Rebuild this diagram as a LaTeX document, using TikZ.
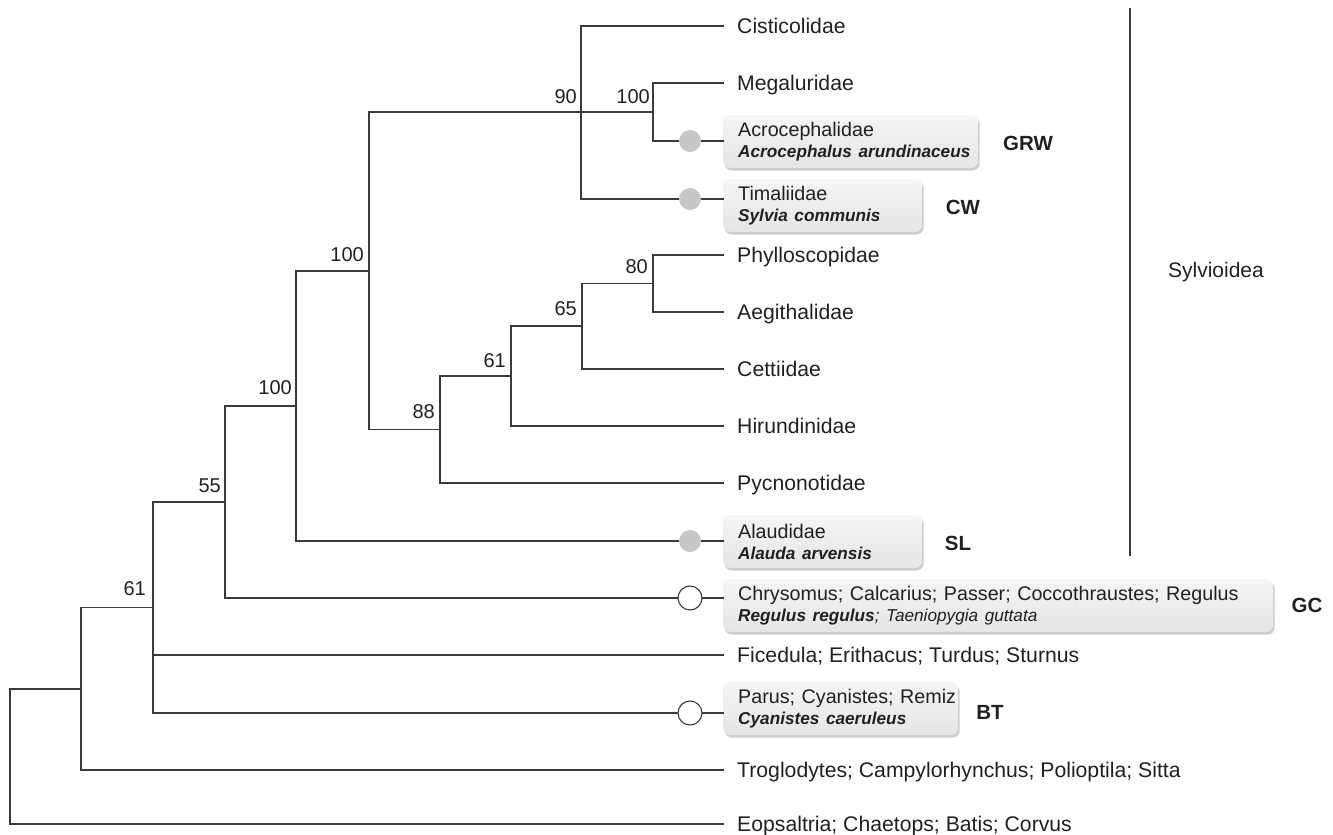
\documentclass[tikz,border=0pt]{standalone}
\usepackage{fontspec}
\setmainfont{Liberation Sans}
\usetikzlibrary{shadows}
\definecolor{ln}{HTML}{3A3A3A}
\definecolor{txt}{HTML}{231F20}
\definecolor{dotg}{HTML}{C6C7C8}
\definecolor{boxtop}{HTML}{F4F5F6}
\definecolor{boxbot}{HTML}{E4E5E6}
\newcommand\spfont{\fontsize{17.2}{21}\selectfont\bfseries\itshape}
\newcommand\itfont{\fontsize{17.2}{21}\selectfont\itshape}
\begin{document}
\begin{tikzpicture}[x=1pt,y=-1pt,
  br/.style={draw=ln, line width=1.2pt, line cap=rect},
  tip/.style={anchor=base west, inner xsep=14pt, inner ysep=0pt, text=txt, font=\fontsize{21.2}{24}\selectfont},
  bs/.style={anchor=base east, inner sep=0pt, text=txt, font=\fontsize{20}{24}\selectfont},
  tag/.style={text=txt, inner sep=0pt, font=\fontsize{20.5}{24}\selectfont\bfseries},
  gbox/.style={anchor=west, rounded corners=7pt, top color=boxtop, bottom color=boxbot, draw=none,
    drop shadow={shadow xshift=1.5pt, shadow yshift=-2.5pt, fill=black!50, opacity=0.4},
    inner xsep=15pt, inner ysep=0pt, minimum height=53pt, align=left, text=txt,
    font=\fontsize{19.7}{21}\selectfont},
  gdot/.style={circle, fill=dotg, draw=none, minimum size=22pt, inner sep=0pt},
  odot/.style={circle, fill=white, draw=ln, line width=1.1pt, minimum size=24pt, inner sep=0pt}]
\useasboundingbox (0,0) rectangle (1333,835);

% internal nodes
\coordinate (R) at (10,756.5);
\coordinate (A) at (81,689);
\coordinate (B) at (153,607.5);
\coordinate (C) at (225,502);
\coordinate (D) at (296,406);
\coordinate (E) at (369,271);
\coordinate (F) at (581,112);
\coordinate (H) at (653,112);
\coordinate (G) at (440,429.5);
\coordinate (I) at (511,376);
\coordinate (J) at (582,326);
\coordinate (K) at (653,283.5);

% tip ends
\coordinate (e1) at (723,26);
\coordinate (e2) at (723,83);
\coordinate (e3) at (723,141);
\coordinate (e4) at (723,199);
\coordinate (e5) at (723,255);
\coordinate (e6) at (723,312);
\coordinate (e7) at (723,369);
\coordinate (e8) at (723,426);
\coordinate (e9) at (723,483);
\coordinate (e10) at (723,541);
\coordinate (e11) at (723,598);
\coordinate (e12) at (723,655);
\coordinate (e13) at (723,713);
\coordinate (e14) at (723,770);
\coordinate (e15) at (723,824);

% boxes
\node[gbox, text width=225pt] (b3) at (723,141.5) {Acrocephalidae\\\mbox{\spfont Acrocephalus arundinaceus}};
\node[gbox, text width=169pt] (b4) at (723,205.5) {Timaliidae\\\mbox{\spfont Sylvia communis}};
\node[gbox, text width=169pt] (b10) at (723,541.5) {Alaudidae\\\mbox{\spfont Alauda arvensis}};
\node[gbox, text width=520pt] (b11) at (723,605.5) {\mbox{Chrysomus; Calcarius; Passer; Coccothraustes; Regulus}\\\mbox{{\spfont Regulus regulus}{\itfont ; Taeniopygia guttata}}};
\node[gbox, text width=205pt] (b13) at (723,708.5) {\mbox{Parus; Cyanistes; Remiz}\\\mbox{\spfont Cyanistes caeruleus}};

% branches
\draw[br] (R) |- (A) (R) |- (e15)
  (A) |- (B) (A) |- (e14)
  (B) |- (C) (B) |- (e12) (B) |- (e13)
  (C) |- (D) (C) |- (e11)
  (D) |- (E) (D) |- (e10)
  (E) |- (F) (E) |- (G)
  (F) |- (e1) (F) -- (H) (F) |- (e4)
  (H) |- (e2) (H) |- (e3)
  (G) |- (I) (G) |- (e9)
  (I) |- (J) (I) |- (e8)
  (J) |- (K) (J) |- (e7)
  (K) |- (e5) (K) |- (e6);

% circles
\node[gdot] (c3) at (690,141) {};
\node[gdot] (c4) at (690,199) {};
\node[gdot] (c10) at (690,541) {};
\node[odot] (c11) at (690,598) {};
\node[odot] (c13) at (690,713) {};

% tip labels
\node[tip] (t1) at ([yshift=-7.6pt]e1) {Cisticolidae};
\node[tip] (t2) at ([yshift=-7.6pt]e2) {Megaluridae};
\node[tip] (t5) at ([yshift=-7.6pt]e5) {Phylloscopidae};
\node[tip] (t6) at ([yshift=-7.6pt]e6) {Aegithalidae};
\node[tip] (t7) at ([yshift=-7.6pt]e7) {Cettiidae};
\node[tip] (t8) at ([yshift=-7.6pt]e8) {Hirundinidae};
\node[tip] (t9) at ([yshift=-7.6pt]e9) {Pycnonotidae};
\node[tip] (t12) at ([yshift=-7.6pt]e12) {Ficedula; Erithacus; Turdus; Sturnus};
\node[tip] (t14) at ([yshift=-7.6pt]e14) {Troglodytes; Campylorhynchus; Polioptila; Sitta};
\node[tip] (t15) at ([yshift=-7.2pt]e15) {Eopsaltria; Chaetops; Batis; Corvus};

% bootstrap values
\node[bs] (sF) at ([shift={(-4,-9)}]F) {90};
\node[bs] (sH) at ([shift={(-3,-9)}]H) {100};
\node[bs] (sE) at ([shift={(-5,-10)}]E) {100};
\node[bs] (sK) at ([shift={(-5,-10)}]K) {80};
\node[bs] (sJ) at ([shift={(-5,-11)}]J) {65};
\node[bs] (sI) at ([shift={(-5,-9)}]I) {61};
\node[bs] (sG) at ([shift={(-5,-11)}]G) {88};
\node[bs] (sD) at ([shift={(-4,-12)}]D) {100};
\node[bs] (sC) at ([shift={(-4,-10)}]C) {55};
\node[bs] (sB) at ([shift={(-7,-12)}]B) {61};

% group tags
\node[tag] (gGRW) at (1028,143) {GRW};
\node[tag] (gCW) at (963,207) {CW};
\node[tag] (gSL) at (958,543) {SL};
\node[tag] (gGC) at (1307,605) {GC};
\node[tag] (gBT) at (990,712) {BT};

% Sylvioidea bracket
\coordinate (syT) at (1130,8);
\coordinate (syB) at (1130,556);
\draw[draw=ln, line width=1.3pt] (syT) -- (syB);
\node[text=txt, font=\fontsize{21}{24}\selectfont] (syl) at (1216,272) {Sylvioidea};
\end{tikzpicture}
\end{document}
